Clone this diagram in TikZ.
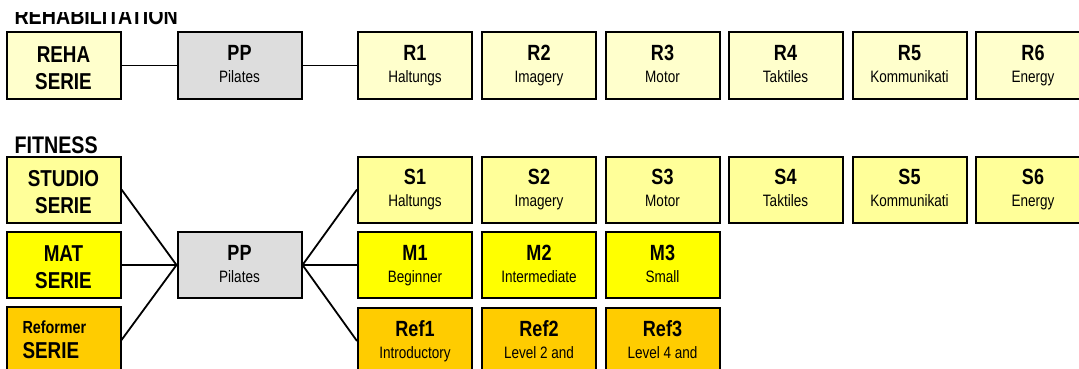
\documentclass[tikz,border=0pt]{standalone}
\usepackage{fontspec}
\setmainfont{Liberation Sans}[FakeStretch=0.82]
\usepackage{tikz}
\usetikzlibrary{arrows, positioning, shapes}

\definecolor{paleyel}{HTML}{FFFFCC}
\definecolor{liteyel}{HTML}{FFFF99}
\definecolor{brightyel}{HTML}{FFFF00}
\definecolor{orangeyel}{HTML}{FFCC00}
\definecolor{ppgray}{HTML}{DDDDDD}

\tikzset{
  cell/.style={draw=black, line width=2pt, minimum width=114pt, minimum height=66pt,
    inner sep=0pt, align=center, font=\fontsize{16.5}{22}\selectfont},
  ppcell/.style={cell, fill=ppgray, minimum width=124pt},
  serie/.style={cell, font=\bfseries\fontsize{23}{27}\selectfont},
  heading/.style={anchor=base west, font=\bfseries\fontsize{24}{24}\selectfont},
  link/.style={line width=1.8pt}
}

\newcommand{\cellText}[2]{{\bfseries\fontsize{22}{22}\selectfont\vphantom{Rf}#1}\\#2\vphantom{g}}

\begin{document}
\begin{tikzpicture}[x=1pt, y=-1pt]
\useasboundingbox (0,0) rectangle (1079,369);

% headings
\begin{scope}
\clip (0,13) rectangle (400,40);
\node[heading] (rehahead) at (11,25) {REHABILITATION};
\end{scope}
\node[heading] (fithead) at (11,153) {FITNESS};

% rehabilitation row
\node[serie, fill=paleyel] (reha) at (63.5, 65.5) {\rule{0pt}{21pt}REHA\\SERIE};
\node[ppcell] (ppr) at (239.5, 65.5) {\cellText{PP}{Pilates}};
\node[cell, fill=paleyel] (r1) at (415, 65.5) {\cellText{R1}{Haltungs}};
\node[cell, fill=paleyel] (r2) at (539, 65.5) {\cellText{R2}{Imagery}};
\node[cell, fill=paleyel] (r3) at (662.5, 65.5) {\cellText{R3}{Motor}};
\node[cell, fill=paleyel] (r4) at (785.5, 65.5) {\cellText{R4}{Taktiles}};
\node[cell, fill=paleyel] (r5) at (909.5, 65.5) {\cellText{R5}{Kommunikati}};
\node[cell, fill=paleyel] (r6) at (1033, 65.5) {\cellText{R6}{Energy}};

% fitness rows
\node[serie, fill=liteyel] (studio) at (63.5, 189.5) {\rule{0pt}{21pt}STUDIO\\SERIE};
\node[serie, fill=brightyel] (mat) at (63.5, 265) {\rule{0pt}{21pt}MAT\\SERIE};
\node[serie, fill=orangeyel, align=left, text width=82pt,
  font=\bfseries\fontsize{23}{25}\selectfont] (reformer) at (63.5, 340)
  {{\fontsize{17.5}{25}\selectfont Reformer}\\SERIE};
\node[ppcell] (ppf) at (239.5, 265) {\cellText{PP}{Pilates}};

\node[cell, fill=liteyel] (s1) at (415, 189.5) {\cellText{S1}{Haltungs}};
\node[cell, fill=liteyel] (s2) at (539, 189.5) {\cellText{S2}{Imagery}};
\node[cell, fill=liteyel] (s3) at (662.5, 189.5) {\cellText{S3}{Motor}};
\node[cell, fill=liteyel] (s4) at (785.5, 189.5) {\cellText{S4}{Taktiles}};
\node[cell, fill=liteyel] (s5) at (909.5, 189.5) {\cellText{S5}{Kommunikati}};
\node[cell, fill=liteyel] (s6) at (1033, 189.5) {\cellText{S6}{Energy}};

\node[cell, fill=brightyel] (m1) at (415, 265) {\cellText{M1}{Beginner}};
\node[cell, fill=brightyel] (m2) at (539, 265) {\cellText{M2}{Intermediate}};
\node[cell, fill=brightyel] (m3) at (662.5, 265) {\cellText{M3}{Small}};

\node[cell, fill=orangeyel] (ref1) at (415, 341) {\cellText{Ref1}{Introductory}};
\node[cell, fill=orangeyel] (ref2) at (539, 341) {\cellText{Ref2}{Level 2 and}};
\node[cell, fill=orangeyel] (ref3) at (662.5, 341) {\cellText{Ref3}{Level 4 and}};

% lines
\draw [link] (reha) -- (ppr);
\draw [link] (ppr) -- (r1);

\draw [link] (studio.east) -- (ppf.west);
\draw [link] (mat.east) -- (ppf.west);
\draw [link] (reformer.east) -- (ppf.west);
\draw [link] (ppf.east) -- (s1.west);
\draw [link] (ppf.east) -- (m1.west);
\draw [link] (ppf.east) -- (ref1.west);
\end{tikzpicture}
\end{document}
